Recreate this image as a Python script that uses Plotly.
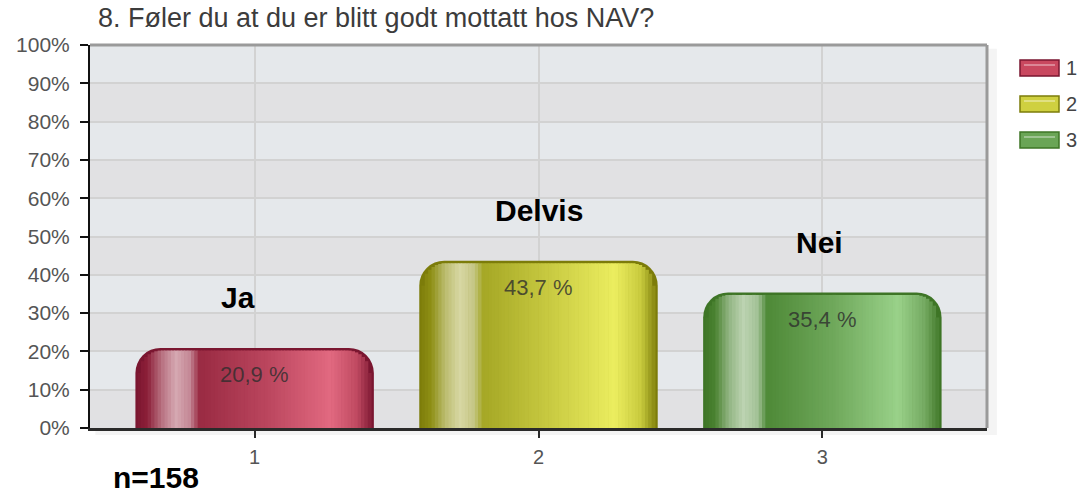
import plotly.graph_objects as go

# ---------------- data ----------------
categories = [1, 2, 3]
cat_labels = ["1", "2", "3"]
answers = ["Ja", "Delvis", "Nei"]
values = [20.9, 43.7, 35.4]
value_text = ["20,9 %", "43,7 %", "35,4 %"]
y_ticks = [0, 10, 20, 30, 40, 50, 60, 70, 80, 90, 100]
y_tick_labels = ["0%", "10%", "20%", "30%", "40%", "50%", "60%", "70%", "80%", "90%", "100%"]
title_text = "8. Føler du at du er blitt godt mottatt hos NAV?"
n_text = "n=158"

# ---------------- layout constants ----------------
W, H = 1081, 495
ML, MR, MT, MB = 90, 94, 45, 67
XR = [0.42, 3.58]
YR = [0, 100]
BAR_W = 0.84
R_PX = 25
INSET = 2.5
N_STRIPS = 70
FONT = "Arial, Liberation Sans, sans-serif"
answer_xshift = [-17, 0, -3]

px_per_x = (W - ML - MR) / (XR[1] - XR[0])
px_per_y = (H - MT - MB) / (YR[1] - YR[0])

# gradient stops across the bar width (style)
palettes = [
    [(0.0, "#7a1630"), (0.05, "#8c1f38"), (0.11, "#b87080"), (0.17, "#d6a9b2"),
     (0.23, "#c58896"), (0.27, "#9a2b43"), (0.55, "#bb465e"), (0.82, "#e26a81"),
     (0.93, "#c04a62"), (1.0, "#7a1630")],
    [(0.0, "#7c7c0a"), (0.05, "#8e8f14"), (0.11, "#bcbd70"), (0.17, "#d8d8a4"),
     (0.23, "#c6c786"), (0.27, "#a6a826"), (0.55, "#c9cb42"), (0.82, "#ecee60"),
     (0.93, "#c9cb3e"), (1.0, "#7c7c0a")],
    [(0.0, "#3e7526"), (0.05, "#4a8230"), (0.11, "#93b684"), (0.17, "#bdd4b2"),
     (0.23, "#a3c397"), (0.27, "#4f8a38"), (0.55, "#70a95c"), (0.82, "#9ad28a"),
     (0.93, "#75aa62"), (1.0, "#3e7526")],
]
edge_colors = ["#7a1630", "#7c7c0a", "#3e7526"]
legend_fill = ["#c9485f", "#cfd040", "#6aa556"]


def hex2rgb(h):
    h = h.lstrip("#")
    return tuple(int(h[i:i + 2], 16) for i in (0, 2, 4))


def interp(stops, t):
    for (a, ca), (b, cb) in zip(stops[:-1], stops[1:]):
        if a <= t <= b:
            f = 0 if b == a else (t - a) / (b - a)
            r1, g1, b1 = hex2rgb(ca)
            r2, g2, b2 = hex2rgb(cb)
            return "rgb(%d,%d,%d)" % (r1 + (r2 - r1) * f, g1 + (g2 - g1) * f, b1 + (b2 - b1) * f)
    return stops[-1][1]


fig = go.Figure()

# base bars (dark rim, rounded top)
for i, (c, v) in enumerate(zip(categories, values)):
    fig.add_trace(go.Bar(
        x=[c], y=[v], width=BAR_W, name=cat_labels[i],
        marker=dict(color=edge_colors[i], line=dict(width=0), cornerradius=R_PX),
        hoverinfo="skip", showlegend=False,
    ))

# gradient strips inside each bar
bw = BAR_W * px_per_x
iw = bw - 2 * INSET
r_in = R_PX - INSET
sw = iw / N_STRIPS
sx, sy, swid, scol = [], [], [], []
for i, (c, v) in enumerate(zip(categories, values)):
    vpx = v * px_per_y
    for k in range(N_STRIPS):
        left = INSET + k * sw
        right = left + sw
        dist = min(left - INSET, (bw - INSET) - right)
        dist = max(dist, 0)
        drop = 0.0
        if dist < r_in:
            drop = r_in - (r_in ** 2 - (r_in - dist) ** 2) ** 0.5
        hpx = vpx - INSET - drop
        sx.append(c - BAR_W / 2 + (left + sw / 2) / px_per_x)
        sy.append(hpx / px_per_y)
        swid.append((sw + 0.6) / px_per_x)
        scol.append(interp(palettes[i], (left + sw / 2) / bw))

fig.add_trace(go.Bar(
    x=sx, y=sy, width=swid,
    marker=dict(color=scol, line=dict(width=0), cornerradius=0),
    hoverinfo="skip", showlegend=False,
))

shapes = []
# faint shadow
shapes.append(dict(type="rect", xref="paper", yref="paper", x0=0.006, x1=1.011, y0=-0.018, y1=0.99,
                   fillcolor="#f4f4f4", line=dict(width=0), layer="below"))
# alternating background bands
for j in range(len(y_ticks) - 1):
    shapes.append(dict(type="rect", xref="paper", yref="y", x0=0, x1=1,
                       y0=y_ticks[j], y1=y_ticks[j + 1],
                       fillcolor="#e5e8eb" if (len(y_ticks) - 2 - j) % 2 == 0 else "#e1e1e3",
                       line=dict(width=0), layer="below"))
# top and right frame
shapes.append(dict(type="line", xref="paper", yref="paper", x0=0, x1=1, y0=1, y1=1,
                   line=dict(color="#9a9a9a", width=3)))
shapes.append(dict(type="line", xref="paper", yref="paper", x0=1, x1=1, y0=0, y1=1,
                   line=dict(color="#9a9a9a", width=3)))


def px2paper_x(px):
    return (px - ML) / (W - ML - MR)


def px2paper_y(py):
    return (H - MB - py) / (H - MT - MB)


annotations = []
# custom legend
for i, lab in enumerate(cat_labels):
    cy = 68 + 36 * i
    x0, x1 = px2paper_x(1020), px2paper_x(1059)
    y0, y1 = px2paper_y(cy + 8), px2paper_y(cy - 8)
    shapes.append(dict(type="rect", xref="paper", yref="paper", x0=x0, x1=x1, y0=y0, y1=y1,
                       fillcolor=legend_fill[i], line=dict(color=edge_colors[i], width=1.5)))
    shapes.append(dict(type="line", xref="paper", yref="paper",
                       x0=px2paper_x(1024), x1=px2paper_x(1055),
                       y0=px2paper_y(cy - 3), y1=px2paper_y(cy - 3),
                       line=dict(color="rgba(255,255,255,0.35)", width=2)))
    annotations.append(dict(xref="paper", yref="paper", x=px2paper_x(1064), y=px2paper_y(cy),
                            text=lab, showarrow=False, xanchor="left", yanchor="middle",
                            font=dict(family=FONT, size=20, color="#444444")))

# value labels inside bars and answer labels above
for c, v, t, a, xs in zip(categories, values, value_text, answers, answer_xshift):
    annotations.append(dict(x=c, y=v, xref="x", yref="y", text=t, showarrow=False,
                            yshift=-27, font=dict(family=FONT, size=22, color="rgba(45,45,45,0.8)")))
    annotations.append(dict(x=c, y=v, xref="x", yref="y", text="<b>%s</b>" % a, showarrow=False,
                            yshift=50, xshift=xs, font=dict(family=FONT, size=30, color="#000000")))

# title and n
annotations.append(dict(xref="paper", yref="paper", x=px2paper_x(96), y=px2paper_y(18),
                        text=title_text, showarrow=False, xanchor="left", yanchor="middle",
                        font=dict(family=FONT, size=27, color="#3c3c3c")))
annotations.append(dict(xref="paper", yref="paper", x=px2paper_x(111), y=px2paper_y(477),
                        text="<b>%s</b>" % n_text, showarrow=False, xanchor="left", yanchor="middle",
                        font=dict(family=FONT, size=30, color="#000000")))

fig.update_layout(
    width=W, height=H,
    margin=dict(l=ML, r=MR, t=MT, b=MB),
    paper_bgcolor="white", plot_bgcolor="#e3e4e6",
    barmode="overlay", showlegend=False,
    shapes=shapes, annotations=annotations,
    xaxis=dict(range=XR, tickvals=categories, ticktext=cat_labels, showgrid=True,
               gridcolor="#d2d2d2", gridwidth=1.5, zeroline=False,
               showline=True, linecolor="#2a2a2a", linewidth=2.5,
               ticks="outside", ticklen=7, tickcolor="#2a2a2a", tickwidth=2,
               ticklabelstandoff=2,
               tickfont=dict(family=FONT, size=20, color="#555555")),
    yaxis=dict(range=YR, tickvals=y_ticks, ticktext=y_tick_labels, showgrid=True,
               gridcolor="#d2d2d2", gridwidth=1.5, zeroline=False,
               showline=True, linecolor="#111111", linewidth=2,
               ticks="outside", ticklen=8, tickcolor="#111111", tickwidth=2,
               ticklabelstandoff=6,
               tickfont=dict(family=FONT, size=21, color="#555555")),
)

fig.write_html("out.html", config={"displayModeBar": False},
               post_script="document.body.style.margin='0px';")
